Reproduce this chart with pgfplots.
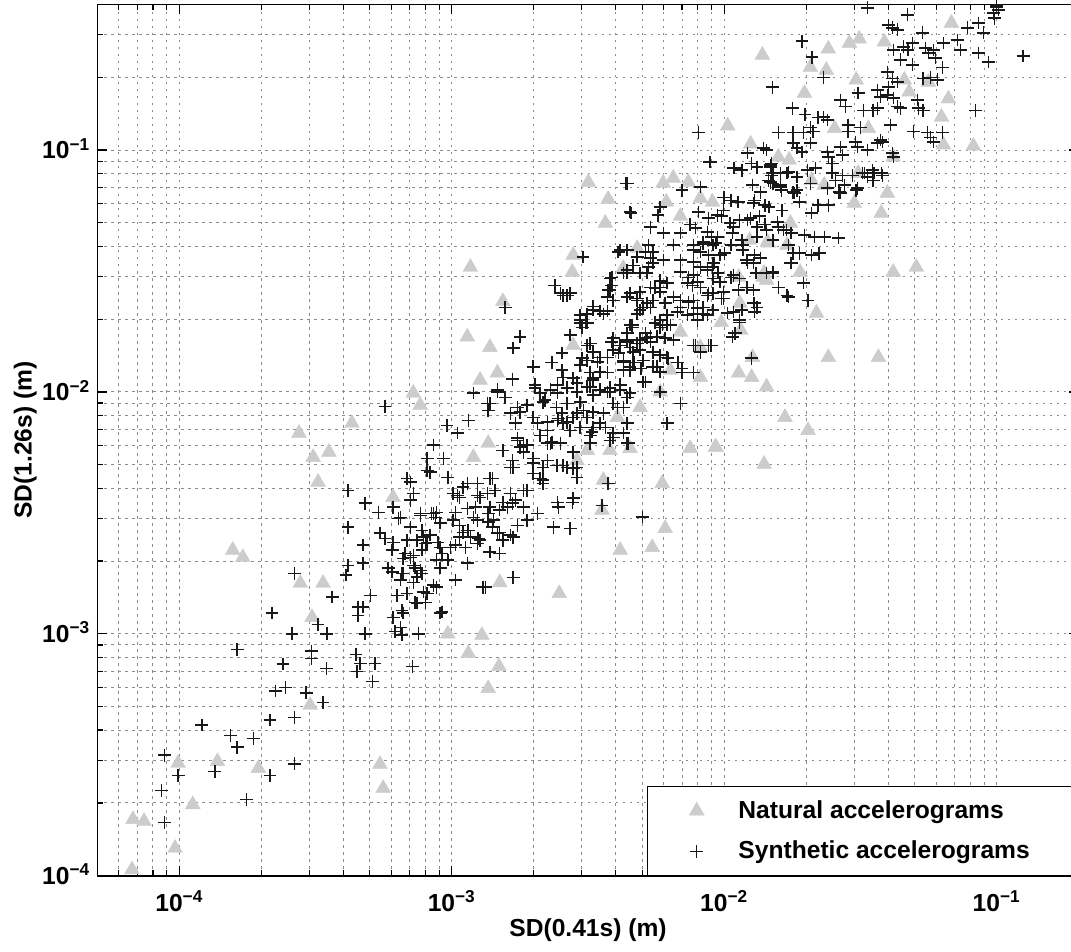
\documentclass[border=0pt]{standalone}
\usepackage{fontspec}
\setmainfont{Liberation Sans}
\usepackage{pgfplots}
\usepackage{pgfplotstable}
\pgfplotsset{compat=1.18}
\pgfplotsset{myleg/.style={legend image code/.code={\path (0pt,0pt) (40pt,0pt); \draw[##1] plot coordinates {(21.5pt,0pt)};}}}

% Natural accelerograms
\pgfplotstableread{
x y
6.70e-5 1.06e-4
6.76e-5 1.71e-4
7.42e-5 1.68e-4
9.65e-5 1.30e-4
9.9e-5 2.92e-4
1.12e-4 1.97e-4
1.38e-4 2.97e-4
1.95e-4 2.78e-4
3.02e-4 5.07e-4
2.75e-4 6.76e-3
3.10e-4 5.37e-3
3.54e-4 5.64e-3
3.23e-4 4.24e-3
1.57e-4 2.22e-3
1.71e-4 2.07e-3
2.78e-4 1.62e-3
3.37e-4 1.62e-3
3.07e-4 1.17e-3
4.30e-4 7.43e-3
5.45e-4 2.89e-4
5.60e-4 2.30e-4
7.22e-4 9.9e-3
7.66e-4 8.82e-3
1.14e-3 1.69e-2
1.38e-3 1.53e-2
1.47e-3 1.20e-2
1.36e-3 6.14e-3
1.20e-3 5.37e-3
6.09e-4 3.67e-3
6.90e-3 1.77e-2
8.17e-3 1.53e-2
6.34e-3 1.23e-2
8.17e-3 1.15e-2
5.82e-3 1.0e-2
4.91e-3 8.64e-3
4.05e-3 7.86e-3
7.5e-3 5.85e-3
9.27e-3 5.91e-3
5.92e-3 4.19e-3
3.60e-3 4.32e-3
3.56e-3 3.25e-3
6.07e-3 2.73e-3
5.44e-3 2.28e-3
4.15e-3 2.22e-3
1.50e-3 1.63e-3
2.48e-3 1.47e-3
9.67e-4 1.0e-3
1.29e-3 9.87e-4
3.14e-3 5.74e-3
3.81e-3 5.74e-3
4.51e-3 5.85e-3
2.88e-3 5.21e-3
1.15e-3 8.31e-4
1.49e-3 7.34e-4
1.36e-3 5.95e-4
3.17e-3 7.37e-2
3.75e-3 6.27e-2
3.66e-3 4.99e-2
1.17e-3 3.28e-2
2.79e-3 3.68e-2
2.77e-3 3.13e-2
1.54e-3 2.37e-2
5.97e-3 7.31e-2
6.50e-3 7.66e-2
7.38e-3 7.37e-2
8.17e-3 6.33e-2
9.05e-3 6.10e-2
6.13e-3 6.10e-2
6.90e-3 5.33e-2
4.79e-3 3.93e-2
4.26e-3 3.25e-2
1.97e-2 0.405
1.38e-2 0.247
2.41e-2 0.262
2.88e-2 0.277
3.13e-2 0.288
3.87e-2 0.280
2.07e-2 0.220
2.37e-2 0.214
6.82e-2 0.335
3.05e-2 0.195
1.97e-2 0.172
4.58e-2 0.195
4.77e-2 0.174
5.61e-2 0.191
6.65e-2 0.163
6.27e-2 0.137
1.03e-2 0.126
2.54e-2 0.123
3.38e-2 0.123
1.25e-2 0.106
1.58e-2 9.36e-2
1.73e-2 9.1e-2
6.38e-2 0.105
8.21e-2 0.104
4.17e-2 9.36e-2
3.97e-2 6.64e-2
3.77e-2 5.49e-2
3.0e-2 6.04e-2
3.10e-2 8.03e-2
2.09e-2 7.5e-2
2.33e-2 7.17e-2
4.17e-2 3.13e-2
5.07e-2 3.28e-2
1.90e-2 3.13e-2
1.40e-2 3.1e-2
1.43e-2 2.9e-2
1.14e-2 2.33e-2
2.18e-2 2.12e-2
1.24e-2 4.24e-2
1.45e-2 4.13e-2
1.13e-2 2.98e-2
9.75e-3 1.94e-2
1.15e-2 1.80e-2
2.41e-2 1.39e-2
3.68e-2 1.39e-2
1.13e-2 1.20e-2
1.26e-2 1.15e-2
1.43e-2 1.05e-2
1.67e-2 7.86e-3
2.03e-2 6.94e-3
9.33e-3 5.91e-3
1.40e-2 5.03e-3
1.75e-2 4.99e-2
1.44e-2 4.17e-2
1.70e-2 4.05e-2
1.39e-2 2.98e-2
1.27e-2 1.39e-2
2.79e-3 1.56e-2
1.27e-3 1.12e-2
}\natural

% Synthetic accelerograms
\pgfplotstableread{
x y
1.63e-4 8.6e-4
3.05e-4 8.5e-4
3.05e-4 7.9e-4
2.40e-4 7.5e-4
3.46e-4 7.2e-4
2.59e-4 1.0e-3
3.48e-4 1.0e-3
4.45e-4 8.2e-4
4.49e-4 7.0e-4
2.25e-4 5.8e-4
2.45e-4 6.0e-4
2.92e-4 5.7e-4
3.37e-4 5.2e-4
2.15e-4 4.4e-4
2.64e-4 4.5e-4
1.21e-4 4.2e-4
1.54e-4 3.8e-4
1.63e-4 3.4e-4
1.87e-4 3.7e-4
8.8e-5 3.15e-4
9.9e-5 2.6e-4
1.35e-4 2.7e-4
2.64e-4 2.9e-4
2.15e-4 2.6e-4
8.6e-5 2.25e-4
1.76e-4 2.07e-4
8.8e-5 1.66e-4
2.64e-4 1.78e-3
3.64e-4 1.42e-3
2.19e-4 1.22e-3
3.23e-4 1.09e-3
4.16e-4 3.92e-3
4.16e-4 2.76e-3
4.16e-4 1.92e-3
4.09e-4 1.75e-3
4.53e-4 1.29e-3
4.53e-4 1.19e-3
4.61e-4 7.56e-4
5.23e-4 7.56e-4
7.16e-4 7.34e-4
5.11e-4 6.36e-4
2.96e-3 1.93e-2
3.14e-3 1.93e-2
4.59e-3 1.89e-2
5.92e-3 1.89e-2
6.34e-3 1.89e-2
1.78e-3 1.69e-2
2.72e-3 1.72e-2
1.68e-3 1.52e-2
3.14e-3 1.56e-2
3.30e-3 1.46e-2
3.91e-3 1.67e-2
4.15e-3 1.56e-2
4.40e-3 1.64e-2
4.79e-3 1.59e-2
5.21e-3 1.67e-2
5.67e-3 1.69e-2
6.07e-3 1.67e-2
6.50e-3 1.64e-2
7.70e-3 1.56e-2
8.75e-3 1.56e-2
2.54e-3 1.45e-2
3.01e-3 1.38e-2
3.42e-3 1.33e-2
3.72e-3 1.39e-2
4.26e-3 1.33e-2
4.63e-3 1.32e-2
5.04e-3 1.35e-2
5.47e-3 1.27e-2
6.17e-3 1.39e-2
6.77e-3 1.32e-2
1.99e-3 1.27e-2
2.33e-3 1.32e-2
2.54e-3 1.23e-2
2.79e-3 1.14e-2
3.30e-3 1.14e-2
3.72e-3 1.20e-2
4.26e-3 1.23e-2
4.51e-3 1.23e-2
5.04e-3 1.10e-2
7.0e-3 1.20e-2
7.70e-3 1.20e-2
1.67e-3 1.13e-2
1.47e-3 1.02e-2
1.35e-3 8.98e-3
1.57e-3 9.5e-3
1.74e-3 8.64e-3
1.89e-3 8.82e-3
2.02e-3 1.04e-2
2.20e-3 9.25e-3
2.44e-3 9.9e-3
2.65e-3 1.04e-2
2.96e-3 9.07e-3
3.30e-3 9.7e-3
3.72e-3 1.0e-2
4.05e-3 8.64e-3
4.40e-3 9.5e-3
6.90e-3 8.98e-3
6.17e-3 7.43e-3
1.20e-3 9.9e-3
5.69e-4 8.73e-3
9.6e-4 7.28e-3
1.15e-3 7.63e-3
1.05e-3 6.76e-3
8.55e-4 6.03e-3
8.12e-4 5.32e-3
8.33e-4 4.66e-3
9.67e-4 4.44e-3
1.54e-3 5.74e-3
1.74e-3 6.44e-3
1.83e-3 6.03e-3
2.06e-3 7.43e-3
2.11e-3 6.62e-3
2.24e-3 6.94e-3
2.44e-3 7.63e-3
2.56e-3 7.43e-3
2.72e-3 6.94e-3
2.54e-3 8.17e-3
2.88e-3 8.17e-3
3.14e-3 7.86e-3
3.30e-3 7.14e-3
3.22e-3 6.62e-3
3.66e-3 7.14e-3
3.91e-3 6.5e-3
4.26e-3 6.76e-3
4.40e-3 6.14e-3
2.30e-3 6.14e-3
2.50e-3 6.14e-3
2.79e-3 5.64e-3
1.67e-3 5.21e-3
1.68e-3 4.88e-3
1.99e-3 5.08e-3
2.16e-3 4.88e-3
2.44e-3 4.97e-3
2.65e-3 4.88e-3
2.88e-3 4.88e-3
2.11e-3 4.39e-3
2.16e-3 4.19e-3
3.75e-3 4.19e-3
2.44e-3 3.50e-3
2.77e-3 3.50e-3
3.56e-3 3.40e-3
5.0e-3 3.04e-3
2.72e-3 2.73e-3
2.36e-3 2.76e-3
1.41e-3 4.39e-3
1.44e-3 3.92e-3
1.35e-3 3.81e-3
1.14e-3 4.19e-3
1.24e-3 3.74e-3
1.07e-3 3.67e-3
1.22e-3 3.34e-3
1.36e-3 3.15e-3
1.42e-3 2.95e-3
1.54e-3 3.50e-3
1.67e-3 3.47e-3
1.83e-3 3.92e-3
1.89e-3 2.95e-3
1.14e-3 2.68e-3
1.17e-3 2.51e-3
1.25e-3 2.48e-3
1.47e-3 2.61e-3
1.54e-3 2.44e-3
1.68e-3 2.51e-3
1.38e-3 2.18e-3
1.50e-3 2.15e-3
1.03e-3 3.18e-3
1.01e-3 2.95e-3
1.07e-3 2.81e-3
8.44e-4 3.15e-3
8.8e-4 3.18e-3
9.06e-4 2.87e-3
7.66e-4 3.15e-3
7.22e-4 3.81e-3
7.04e-4 3.57e-3
6.85e-4 4.39e-3
7.04e-4 4.24e-3
5.37e-4 3.18e-3
4.81e-4 3.47e-3
6.09e-4 3.34e-3
6.36e-4 3.0e-3
7.77e-4 2.68e-3
8.12e-4 2.39e-3
8.33e-4 2.56e-3
8.9e-4 2.39e-3
5.45e-4 2.61e-3
5.69e-4 2.48e-3
6.09e-4 2.39e-3
6.04e-4 2.22e-3
6.85e-4 2.44e-3
6.74e-4 2.15e-3
7.22e-4 2.11e-3
7.77e-4 2.22e-3
6.62e-4 2.05e-3
7.34e-4 1.87e-3
7.77e-4 1.78e-3
8.8e-4 2.02e-3
9.06e-4 1.87e-3
9.67e-4 2.02e-3
4.72e-4 2.33e-3
4.72e-4 1.96e-3
5.02e-4 1.44e-3
4.72e-4 1.29e-3
5.84e-4 1.87e-3
6.04e-4 1.80e-3
6.57e-4 1.78e-3
6.47e-4 1.67e-3
6.3e-4 1.44e-3
7.45e-4 1.34e-3
8.12e-4 1.47e-3
8.8e-4 1.56e-3
1.03e-3 1.67e-3
9.06e-4 1.22e-3
6.09e-4 1.17e-3
6.57e-4 1.25e-3
6.47e-4 1.06e-3
6.19e-4 1.02e-3
4.81e-4 1.0e-3
6.57e-4 9.9e-4
7.53e-4 1.0e-3
1.33e-3 1.56e-3
1.68e-3 1.71e-3
8.89e-3 8.93e-2
1.08e-2 8.43e-2
1.16e-2 8.26e-2
1.32e-2 8.5e-2
1.48e-2 8.66e-2
1.51e-2 8.03e-2
1.70e-2 8.03e-2
1.45e-2 7.5e-2
1.51e-2 7.29e-2
1.61e-2 7.17e-2
4.40e-3 7.29e-2
7.0e-3 6.83e-2
8.17e-3 7.03e-2
1.27e-2 7.17e-2
1.36e-2 6.7e-2
9.95e-3 6.38e-2
1.12e-2 6.10e-2
1.28e-2 6.04e-2
1.41e-2 5.92e-2
1.45e-2 5.81e-2
1.63e-2 5.64e-2
5.82e-3 5.81e-2
5.71e-3 5.38e-2
4.51e-3 5.54e-2
8.03e-3 5.54e-2
8.75e-3 5.23e-2
9.43e-3 5.38e-2
9.95e-3 5.64e-2
1.05e-2 4.99e-2
1.14e-2 5.14e-2
1.25e-2 5.23e-2
1.32e-2 4.8e-2
1.41e-2 4.91e-2
1.57e-2 5.04e-2
5.35e-3 4.8e-2
7.5e-3 4.91e-2
7.83e-3 4.76e-2
5.97e-3 4.54e-2
6.90e-3 4.54e-2
8.68e-3 4.58e-2
9.43e-3 4.37e-2
1.07e-2 4.54e-2
1.16e-2 4.24e-2
1.32e-2 4.37e-2
1.51e-2 4.24e-2
1.65e-2 4.67e-2
8.37e-3 4.17e-2
7.70e-3 4.05e-2
9.1e-3 4.05e-2
4.15e-3 3.86e-2
3.03e-3 3.61e-2
5.26e-3 4.05e-2
5.47e-3 3.79e-2
7.70e-3 3.86e-2
8.17e-3 3.79e-2
8.75e-3 3.68e-2
9.66e-3 3.68e-2
1.17e-2 3.86e-2
1.21e-2 3.51e-2
1.28e-2 3.41e-2
1.36e-2 3.58e-2
1.75e-2 3.41e-2
1.79e-2 3.75e-2
6.9e-3 3.51e-2
5.97e-3 3.51e-2
5.35e-3 3.58e-2
5.26e-3 3.28e-2
4.63e-3 3.34e-2
4.40e-3 3.19e-2
4.26e-3 3.10e-2
3.81e-3 2.95e-2
3.87e-3 2.76e-2
7.70e-3 3.44e-2
8.17e-3 3.28e-2
9.1e-3 3.41e-2
6.9e-3 3.13e-2
7.38e-3 2.98e-2
7.70e-3 3.04e-2
8.68e-3 3.19e-2
9.05e-3 3.28e-2
7.32e-3 2.82e-2
7.64e-3 2.76e-2
7.96e-3 2.85e-2
8.17e-3 2.71e-2
9.1e-3 2.95e-2
9.66e-3 2.85e-2
9.95e-3 2.59e-2
1.08e-2 3.04e-2
1.14e-2 2.95e-2
1.21e-2 2.71e-2
1.28e-2 2.64e-2
1.51e-2 3.13e-2
1.58e-2 2.71e-2
1.70e-2 2.51e-2
8.68e-3 2.51e-2
9.1e-3 2.56e-2
9.95e-3 2.44e-2
5.82e-3 2.71e-2
6.17e-3 2.82e-2
6.50e-3 2.47e-2
6.9e-3 2.24e-2
7.38e-3 2.35e-2
7.70e-3 2.39e-2
7.96e-3 2.22e-2
8.37e-3 2.24e-2
8.68e-3 2.08e-2
6.72e-3 2.14e-2
7.32e-3 2.08e-2
7.70e-3 2.10e-2
7.96e-3 1.98e-2
1.03e-2 2.12e-2
1.08e-2 2.14e-2
1.14e-2 1.98e-2
1.28e-2 2.33e-2
1.32e-2 2.24e-2
1.10e-2 1.75e-2
1.07e-2 1.69e-2
4.40e-3 2.47e-2
4.51e-3 2.56e-2
4.79e-3 2.44e-2
4.91e-3 2.59e-2
3.72e-3 2.47e-2
3.81e-3 2.64e-2
3.87e-3 2.98e-2
5.35e-3 2.71e-2
5.57e-3 2.69e-2
5.82e-3 2.59e-2
5.21e-3 2.33e-2
5.35e-3 2.24e-2
5.47e-3 2.39e-2
4.91e-3 2.18e-2
5.04e-3 2.24e-2
4.79e-3 2.10e-2
6.07e-3 2.33e-2
6.17e-3 2.08e-2
5.82e-3 1.98e-2
2.56e-3 2.51e-2
2.72e-3 2.56e-2
3.30e-3 2.18e-2
3.14e-3 2.10e-2
3.60e-3 2.10e-2
2.96e-3 1.98e-2
3.01e-3 1.85e-2
3.09e-3 1.93e-2
4.51e-3 1.89e-2
4.40e-3 1.75e-2
4.59e-3 1.85e-2
5.57e-3 1.93e-2
5.82e-3 1.85e-2
6.17e-3 1.89e-2
5.13e-3 1.75e-2
5.35e-3 1.69e-2
4.91e-3 1.64e-2
3.22e-3 1.59e-2
3.50e-3 1.39e-2
3.14e-3 1.35e-2
3.87e-3 1.61e-2
3.91e-3 1.49e-2
4.09e-3 1.45e-2
4.40e-3 1.61e-2
4.51e-3 1.53e-2
4.63e-3 1.46e-2
4.91e-3 1.49e-2
5.35e-3 1.61e-2
5.47e-3 1.46e-2
5.82e-3 1.42e-2
6.22e-3 1.38e-2
6.72e-3 1.32e-2
7.0e-3 1.25e-2
7.83e-3 1.56e-2
8.17e-3 1.46e-2
8.89e-3 1.56e-2
4.26e-3 1.35e-2
4.51e-3 1.27e-2
4.67e-3 1.32e-2
4.95e-3 1.25e-2
5.13e-3 1.10e-2
5.67e-3 1.27e-2
5.82e-3 1.21e-2
2.96e-3 1.29e-2
3.22e-3 1.20e-2
3.50e-3 1.21e-2
2.56e-3 1.15e-2
2.65e-3 1.04e-2
2.88e-3 1.09e-2
3.14e-3 1.05e-2
3.30e-3 1.12e-2
3.50e-3 1.02e-2
3.81e-3 1.0e-2
4.15e-3 1.02e-2
5.82e-3 1.0e-2
7.70e-3 1.20e-2
1.47e-3 1.0e-2
1.38e-3 8.98e-3
1.36e-3 8.4e-3
2.02e-3 1.07e-2
2.11e-3 9.9e-3
2.30e-3 1.02e-2
2.44e-3 1.07e-2
2.88e-3 1.0e-2
3.22e-3 1.05e-2
3.81e-3 1.04e-2
4.15e-3 1.07e-2
4.51e-3 9.9e-3
2.16e-3 9.07e-3
2.42e-3 8.64e-3
2.65e-3 8.98e-3
3.04e-3 8.4e-3
3.30e-3 8.25e-3
3.60e-3 8.17e-3
3.91e-3 8.98e-3
4.26e-3 8.64e-3
1.64e-3 8.17e-3
1.78e-3 8.25e-3
1.99e-3 7.86e-3
1.71e-3 7.43e-3
2.24e-3 7.5e-3
2.46e-3 7.78e-3
2.65e-3 7.5e-3
2.79e-3 7.86e-3
2.96e-3 7.14e-3
3.27e-3 6.83e-3
3.50e-3 7.43e-3
3.91e-3 6.76e-3
4.40e-3 7.43e-3
4.44e-3 6.14e-3
9.3e-4 5.32e-3
8.12e-4 4.73e-3
1.74e-3 6.3e-3
1.78e-3 5.91e-3
1.89e-3 6.03e-3
1.83e-3 5.64e-3
2.24e-3 6.14e-3
2.33e-3 6.2e-3
1.64e-3 4.88e-3
1.99e-3 5.32e-3
2.24e-3 5.21e-3
2.42e-3 4.97e-3
2.56e-3 4.97e-3
2.79e-3 4.83e-3
2.88e-3 4.44e-3
3.22e-3 6.14e-3
3.81e-3 6.3e-3
1.99e-3 4.61e-3
2.16e-3 4.32e-3
1.89e-3 3.92e-3
1.10e-3 4.04e-3
1.24e-3 4.19e-3
1.38e-3 4.39e-3
1.64e-3 3.81e-3
1.71e-3 3.57e-3
1.83e-3 3.34e-3
2.46e-3 3.34e-3
2.79e-3 3.64e-3
2.06e-3 3.15e-3
1.27e-3 3.67e-3
1.38e-3 3.34e-3
1.50e-3 3.25e-3
1.60e-3 3.34e-3
1.14e-3 3.30e-3
1.20e-3 3.03e-3
1.24e-3 2.95e-3
1.05e-3 3.74e-3
1.01e-3 3.81e-3
7.66e-4 3.08e-3
8.55e-4 3.15e-3
8.7e-4 3.03e-3
1.36e-3 2.90e-3
1.41e-3 2.76e-3
1.50e-3 2.63e-3
1.64e-3 2.56e-3
1.74e-3 2.81e-3
1.10e-3 2.63e-3
1.15e-3 2.68e-3
1.24e-3 2.36e-3
1.27e-3 2.44e-3
1.30e-3 1.56e-3
6.47e-4 3.03e-3
7.04e-4 2.76e-3
7.45e-4 2.44e-3
7.99e-4 2.36e-3
7.88e-4 2.51e-3
9.06e-4 2.28e-3
9.2e-4 2.15e-3
9.9e-4 2.28e-3
1.03e-3 2.33e-3
1.14e-3 1.96e-3
7.04e-4 2.07e-3
7.22e-4 1.92e-3
7.66e-4 1.83e-3
7.45e-4 1.72e-3
8.55e-4 1.59e-3
6.62e-4 1.78e-3
7.22e-4 1.63e-3
7.88e-4 1.49e-3
7.99e-4 1.35e-3
6.85e-4 1.47e-3
7.34e-4 1.35e-3
6.62e-4 1.22e-3
9.2e-4 1.23e-3
1.07e-3 2.51e-3
1.12e-3 2.28e-3
3.35e-2 0.387
4.43e-2 0.405
5.85e-2 0.406
4.70e-2 0.362
4.0e-2 0.329
4.14e-2 0.320
4.32e-2 0.314
5.33e-2 0.305
1.93e-2 0.282
2.10e-2 0.242
4.17e-2 0.259
4.54e-2 0.267
4.9e-2 0.277
4.72e-2 0.259
5.47e-2 0.264
5.61e-2 0.252
5.85e-2 0.259
5.95e-2 0.240
6.38e-2 0.277
7.17e-2 0.285
7.36e-2 0.259
7.81e-2 0.320
8.57e-2 0.335
8.95e-2 0.305
9.73e-2 0.368
0.100 0.390
4.43e-2 0.236
4.9e-2 0.225
6.32e-2 0.220
8.57e-2 0.252
9.33e-2 0.231
2.31e-2 0.200
1.50e-2 0.182
3.97e-2 0.210
4.14e-2 0.198
4.32e-2 0.191
4.0e-2 0.182
5.37e-2 0.198
5.71e-2 0.200
6.06e-2 0.195
3.10e-2 0.172
3.65e-2 0.177
3.74e-2 0.166
3.97e-2 0.169
4.17e-2 0.164
2.67e-2 0.161
2.78e-2 0.151
3.24e-2 0.146
3.52e-2 0.146
3.65e-2 0.149
4.32e-2 0.151
4.43e-2 0.149
5.11e-2 0.161
5.16e-2 0.149
5.37e-2 0.146
1.78e-2 0.149
1.98e-2 0.140
2.31e-2 0.137
2.21e-2 0.136
2.39e-2 0.133
2.85e-2 0.127
2.85e-2 0.119
3.16e-2 0.124
4.07e-2 0.127
4.94e-2 0.119
5.56e-2 0.118
5.71e-2 0.113
6.32e-2 0.118
5.85e-2 0.108
8.35e-2 0.146
1.58e-2 0.118
1.79e-2 0.118
1.95e-2 0.118
2.07e-2 0.124
2.12e-2 0.119
1.79e-2 0.107
1.85e-2 0.102
1.93e-2 9.81e-2
2.07e-2 0.107
2.39e-2 9.81e-2
2.41e-2 9.36e-2
2.71e-2 9.54e-2
3.03e-2 0.108
3.08e-2 0.103
3.35e-2 0.100
3.65e-2 0.107
3.74e-2 0.110
3.80e-2 0.108
4.14e-2 9.72e-2
4.17e-2 9.36e-2
1.39e-2 0.102
1.48e-2 8.5e-2
1.50e-2 8.03e-2
1.48e-2 7.37e-2
1.61e-2 8.03e-2
1.72e-2 8.11e-2
1.85e-2 7.74e-2
2.02e-2 8.26e-2
2.07e-2 7.29e-2
2.16e-2 8.43e-2
2.49e-2 8.8e-2
2.49e-2 8.03e-2
2.56e-2 7.5e-2
2.67e-2 6.64e-2
2.71e-2 7.84e-2
2.95e-2 7.84e-2
3.08e-2 6.96e-2
3.21e-2 8.03e-2
3.35e-2 7.74e-2
3.50e-2 8.26e-2
3.52e-2 7.5e-2
3.80e-2 7.84e-2
1.61e-2 7.03e-2
1.79e-2 6.7e-2
1.85e-2 6.83e-2
2.39e-2 6.96e-2
2.67e-2 0.103
0.125 0.245
0.100 0.398
0.1015 0.379
9.81e-2 0.351
1.43e-2 0.100
1.22e-2 9.72e-2
1.26e-2 8.8e-2
1.09e-2 8.43e-2
1.49e-2 8.8e-2
1.49e-2 7.84e-2
1.0e-2 6.38e-2
1.06e-2 6.2e-2
1.13e-2 6.1e-2
1.29e-2 6.2e-2
1.46e-2 5.81e-2
1.62e-2 6.83e-2
1.81e-2 6.64e-2
1.89e-2 6.10e-2
9.75e-3 5.33e-2
1.08e-2 4.8e-2
1.22e-2 5.14e-2
1.35e-2 5.33e-2
1.43e-2 4.67e-2
1.58e-2 4.8e-2
1.69e-2 4.67e-2
1.76e-2 4.54e-2
1.97e-2 4.45e-2
2.14e-2 4.37e-2
2.33e-2 4.37e-2
2.62e-2 4.33e-2
8.98e-3 4.37e-2
9.33e-3 4.13e-2
1.0e-2 3.75e-2
1.06e-2 4.05e-2
1.17e-2 4.05e-2
1.29e-2 3.68e-2
1.22e-2 3.41e-2
1.31e-2 3.10e-2
1.43e-2 3.10e-2
1.51e-2 3.10e-2
1.72e-2 4.05e-2
1.89e-2 3.75e-2
2.09e-2 3.68e-2
2.23e-2 3.75e-2
1.76e-2 3.41e-2
1.95e-2 2.82e-2
2.03e-2 2.39e-2
1.72e-2 2.47e-2
9.49e-3 3.10e-2
1.06e-2 2.98e-2
1.13e-2 2.64e-2
9.75e-3 2.44e-2
9.17e-3 3.41e-2
1.29e-2 2.33e-2
1.29e-2 2.14e-2
1.16e-2 2.18e-2
2.41e-2 5.92e-2
2.09e-2 5.49e-2
2.21e-2 5.92e-2
2.64e-2 6.7e-2
2.76e-2 7.17e-2
3.05e-2 6.83e-2
3.27e-2 8.03e-2
3.55e-2 8.03e-2
3.77e-2 8.03e-2
8.03e-3 0.118
8.82e-3 8.93e-2
4.36e-3 7.29e-2
4.55e-3 5.49e-2
6.5e-3 4.05e-2
8.37e-3 4.09e-2
4.08e-3 3.79e-2
4.40e-3 3.86e-2
4.79e-3 3.61e-2
5.13e-3 3.79e-2
5.47e-3 3.41e-2
5.21e-3 3.10e-2
5.82e-3 2.88e-2
4.91e-3 3.10e-2
4.40e-3 3.10e-2
2.39e-3 2.76e-2
2.50e-3 2.56e-2
2.65e-3 2.51e-2
3.75e-3 2.64e-2
3.91e-3 2.39e-2
4.79e-3 2.39e-2
3.30e-3 2.26e-2
3.50e-3 2.16e-2
3.72e-3 2.16e-2
2.96e-3 2.08e-2
1.57e-3 2.24e-2
8.75e-3 2.56e-2
6.9e-3 2.39e-2
8.37e-3 2.10e-2
9.1e-3 2.18e-2
1.09e-2 1.75e-2
1.26e-2 1.38e-2
1.14e-2 1.94e-2
8.98e-3 1.56e-2
}\synthetic

\newcommand{\lbl}{\fontsize{12.3}{14}\selectfont\bfseries}

\begin{document}
\begin{tikzpicture}
\begin{axis}[
  scale only axis,
  width=490.5pt, height=435.5pt,
  xmode=log, ymode=log,
  xmin=5e-5, xmax=0.2, ymin=1e-4, ymax=0.4,
  xtick={1e-4,1e-3,1e-2,1e-1},
  xticklabels={10\textsuperscript{−4},10\textsuperscript{−3},10\textsuperscript{−2},10\textsuperscript{−1}},
  ytick={1e-4,1e-3,1e-2,1e-1},
  yticklabels={10\textsuperscript{−4},10\textsuperscript{−3},10\textsuperscript{−2},10\textsuperscript{−1}},
  minor xtick={6e-5,7e-5,8e-5,9e-5,2e-4,3e-4,4e-4,5e-4,6e-4,7e-4,8e-4,9e-4,2e-3,3e-3,4e-3,5e-3,6e-3,7e-3,8e-3,9e-3,2e-2,3e-2,4e-2,5e-2,6e-2,7e-2,8e-2,9e-2},
  minor ytick={2e-4,3e-4,4e-4,5e-4,6e-4,7e-4,8e-4,9e-4,2e-3,3e-3,4e-3,5e-3,6e-3,7e-3,8e-3,9e-3,2e-2,3e-2,4e-2,5e-2,6e-2,7e-2,8e-2,9e-2,0.2,0.3},
  grid=both,
  major grid style={black!45, line width=0.45pt, dash pattern=on 1.2pt off 2.3pt},
  minor grid style={black!45, line width=0.45pt, dash pattern=on 1.2pt off 2.3pt},
  tick align=inside,
  major tick length=5pt, minor tick length=3pt,
  tick style={black, line width=0.6pt},
  axis line style={black, line width=0.8pt},
  ticklabel style={font=\lbl},
  x tick label style={anchor=base, yshift=-17.8pt},
  y tick label style={anchor=base east, yshift=-4.4pt},
  xlabel={SD(0.41s) (m)},
  ylabel={SD(1.26s) (m)},
  label style={font=\lbl},
  xlabel style={at={(axis description cs:0.5,-0.0696)}, anchor=base},
  ylabel style={at={(axis description cs:-0.0669,0.5)}, anchor=base},
  legend style={at={(1,0)}, anchor=south east, draw=black, line width=0.5pt, fill=white,
    font=\lbl, inner xsep=3pt, inner ysep=4.7pt, row sep=5.9pt,
    nodes={inner sep=2pt}, cells={anchor=west}},
  legend cell align=left,
]
\addplot[only marks, mark=triangle*, mark size=4.3pt, color=black!20,
  mark options={fill=black!20, draw=black!20, line width=0.2pt}, myleg]
  table[x=x, y=y] {\natural};
\addlegendentry{\makebox[164.8pt][l]{Natural accelerograms}}
\addplot[only marks, mark=+, mark size=3.2pt, color=black!90, line width=0.7pt, myleg]
  table[x=x, y=y] {\synthetic};
\addlegendentry{\makebox[164.8pt][l]{Synthetic accelerograms}}
\end{axis}
\pgfresetboundingbox
\useasboundingbox ([xshift=-48.65pt,yshift=-37.8pt]current axis.south west) rectangle ([xshift=-3.85pt,yshift=2.2pt]current axis.north east);
\end{tikzpicture}
\end{document}
